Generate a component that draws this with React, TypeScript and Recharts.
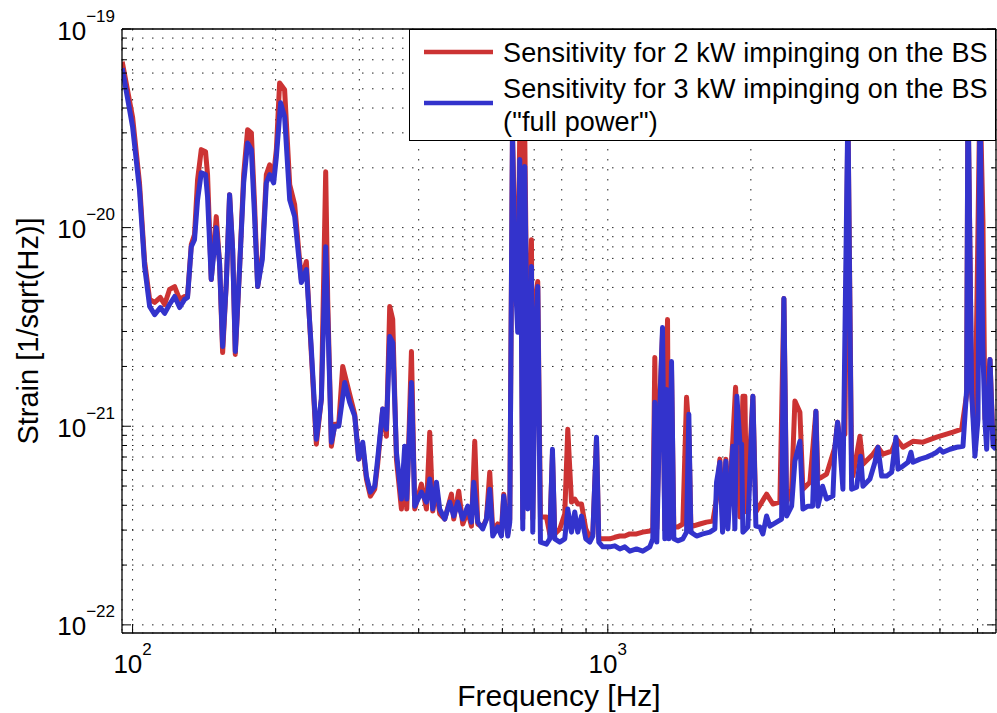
import { LineChart, Line, XAxis, YAxis, CartesianGrid, Legend } from 'recharts'

const FONT = '"Liberation Sans", Arial, Helvetica, sans-serif'
const RED = '#cc3333'
const BLUE = '#3333cc'

// frequency [Hz] / strain [1/sqrt(Hz)]
const freqBlue = [
  95.1, 100, 103.4, 106.0, 108.6, 111.3, 114.4, 116.8, 119.6, 122.6,
  125.6, 128.7, 130.5, 132.9, 135.0, 137.0, 139.5, 142.4, 143.8, 146.4,
  150.0, 152.4, 154.7, 157.5, 160.0, 162.4, 164.5, 168.0, 171.3, 174.6,
  177.8, 180.6, 183.3, 187.5, 191.2, 194.3, 198.1, 200.7, 204.9, 208.9,
  214.1, 219.3, 226.5, 232.1, 237.8, 243.6, 249.6, 254.9, 257.4, 262.0,
  266.3, 271.5, 279.5, 286.3, 293.4, 299.1, 305.0, 310.5, 316.5, 323.2,
  327.9, 336.0, 342.1, 347.6, 352.7, 359.1, 367.9, 373.8, 377.5, 386.2,
  392.4, 405.3, 415.3, 422.0, 428.2, 435.9, 442.9, 453.8, 464.9, 474.0,
  483.3, 495.2, 507.3, 516.5, 522.3, 532.5, 545.6, 555.4, 564.4, 572.7,
  586.7, 597.3, 604.0, 615.9, 621.9, 630.1, 637.1, 646.4, 652.7, 658.1,
  662.3, 668.7, 674.3, 678.5, 690.8, 695.2, 704.3, 712.2, 721.6, 742.9,
  754.9, 764.8, 773.4, 792.4, 811.8, 823.7, 838.6, 852.1, 864.6, 880.3,
  898.8, 916.5, 929.9, 946.7, 957.3, 976.1, 1009.7, 1034.5, 1059.9, 1085.9,
  1112.5, 1149.2, 1184.8, 1225.7, 1243.7, 1255.8, 1268.0, 1286.6, 1303.6, 1318.3,
  1329.2, 1344.1, 1361.8, 1377.1, 1404.0, 1438.5, 1464.5, 1480.9, 1495.4, 1537.2,
  1584.9, 1639.7, 1679.9, 1693.8, 1721.2, 1743.8, 1772.0, 1789.3, 1833.2, 1851.0,
  1869.1, 1896.5, 1912.2, 1924.3, 1971.5, 2019.8, 2049.4, 2089.3, 2120.0, 2158.4,
  2193.3, 2265.7, 2321.3, 2347.3, 2378.3, 2436.7, 2475.9, 2536.7, 2573.8, 2637.0,
  2697.8, 2741.3, 2768.1, 2831.4, 2886.8, 2976.4, 3005.4, 3045.0, 3079.1, 3124.2,
  3200.9, 3258.9, 3338.9, 3404.4, 3442.5, 3561.4, 3648.8, 3702.3, 3769.3, 3861.9,
  3956.7, 4040.1, 4079.5, 4179.3, 4281.8, 4344.5, 4386.9, 4538.2, 4688.0, 4833.1,
  4920.4, 5000, 5073.2, 5248.1, 5421.6, 5589.8, 5690.5, 5726.7, 5830.2, 5924.4,
  6011.3, 6069.8, 6149.9, 6218.8, 6270.3, 6371.5, 6465.0, 6560,
]

const strainBlue = [
  6.35e-20, 3.22e-20, 1.55e-20, 6.37e-21, 4.01e-21, 3.65e-21, 3.96e-21, 3.7e-21, 4.1e-21, 4.5e-21,
  3.96e-21, 4.35e-21, 4.45e-21, 8.02e-21, 8.7e-21, 1.38e-20, 1.89e-20, 1.85e-20, 1.43e-20, 5.48e-21,
  1.0e-20, 6.67e-21, 2.52e-21, 5.29e-21, 1.465e-20, 7.75e-21, 2.38e-21, 6.37e-21, 1.68e-20, 2.67e-20,
  2.47e-20, 1.136e-20, 5.05e-21, 6.91e-21, 1.68e-20, 1.85e-20, 1.68e-20, 2.27e-20, 4.25e-20, 3.61e-20,
  1.38e-20, 1.136e-20, 5.29e-21, 6.15e-21, 2.44e-21, 8.6e-22, 1.37e-21, 8.02e-21, 3.57e-21, 8.31e-22,
  1.0e-21, 1.0e-21, 1.66e-21, 1.32e-21, 1.123e-21, 6.83e-22, 8.31e-22, 5.61e-22, 4.66e-22, 4.99e-22,
  6.83e-22, 1.22e-21, 9.66e-22, 2.83e-21, 2.64e-21, 7.4e-22, 4.3e-22, 7.93e-22, 4.3e-22, 1.66e-21,
  3.96e-22, 4.66e-22, 4.15e-22, 5.42e-22, 3.83e-22, 5.23e-22, 3.83e-22, 3.41e-22, 4.15e-22, 3.53e-22,
  4.15e-22, 3.41e-22, 3.96e-22, 3.29e-22, 5.23e-22, 3.29e-22, 3.04e-22, 3.41e-22, 4.82e-22, 2.8e-22,
  3.11e-22, 2.8e-22, 4.45e-22, 2.8e-22, 3.29e-22, 3.0e-20, 6.37e-21, 2.97e-21, 2.2e-20, 2.97e-21,
  3.04e-22, 2.03e-20, 4.35e-21, 3.83e-22, 6.37e-21, 2.93e-22, 2.97e-21, 5.05e-21, 2.61e-22, 2.55e-22,
  2.71e-22, 7.66e-22, 2.71e-22, 2.61e-22, 2.71e-22, 3.83e-22, 2.93e-22, 3.7e-22, 2.93e-22, 3.53e-22,
  2.71e-22, 2.61e-22, 2.8e-22, 8.81e-22, 2.61e-22, 2.47e-22, 2.47e-22, 2.5e-22, 2.41e-22, 2.47e-22,
  2.35e-22, 2.41e-22, 2.35e-22, 2.47e-22, 2.71e-22, 1.32e-21, 2.61e-22, 1.22e-21, 3.14e-21, 2.71e-22,
  1.53e-21, 2.71e-22, 2.12e-21, 2.71e-22, 2.65e-22, 2.71e-22, 2.93e-22, 1.149e-21, 2.93e-22, 2.8e-22,
  2.87e-22, 2.93e-22, 3.04e-22, 5.23e-22, 6.59e-22, 2.93e-22, 6.67e-22, 3.04e-22, 7.93e-22, 3.04e-22,
  1.415e-21, 8.31e-22, 8.12e-22, 2.93e-22, 3.11e-22, 1.415e-21, 3.14e-22, 3.11e-22, 2.87e-22, 3.53e-22,
  3.14e-22, 3.29e-22, 3.41e-22, 4.4e-21, 3.53e-22, 3.96e-22, 6.67e-22, 8.4e-22, 3.83e-22, 3.96e-22,
  3.96e-22, 1.19e-21, 3.96e-22, 4.99e-22, 4.3e-22, 4.45e-22, 7.84e-22, 1.047e-21, 7.93e-22, 4.82e-22,
  4.0e-20, 4.82e-22, 4.94e-22, 7.07e-22, 4.99e-22, 5.42e-22, 6.59e-22, 7.84e-22, 5.61e-22, 5.61e-22,
  5.87e-22, 8.81e-22, 6.08e-22, 6.3e-22, 6.59e-22, 7.4e-22, 6.59e-22, 6.83e-22, 6.99e-22, 7.23e-22,
  7.4e-22, 7.66e-22, 7.4e-22, 7.66e-22, 7.84e-22, 7.93e-22, 1.53e-21, 5.0e-20, 1.48e-21, 7.07e-22,
  1.084e-21, 5.0e-20, 2.64e-21, 1.047e-21, 7.66e-22, 2.17e-21, 7.93e-22, 7.66e-22,
]

const freqRed = [
  95.1, 100, 103.4, 106.0, 108.6, 111.3, 114.4, 116.8, 119.6, 122.6,
  125.6, 128.7, 130.5, 132.9, 135.0, 137.0, 139.5, 142.4, 143.8, 146.4,
  150.0, 152.4, 154.7, 157.5, 160.0, 162.4, 164.5, 168.0, 171.3, 174.6,
  177.8, 180.6, 183.3, 187.5, 191.2, 194.3, 198.1, 200.7, 203.9, 208.9,
  214.1, 219.3, 226.5, 232.1, 237.8, 243.6, 249.6, 254.9, 257.4, 262.0,
  266.3, 271.5, 276.8, 286.3, 293.4, 299.1, 305.0, 310.5, 316.5, 323.2,
  327.9, 336.0, 342.1, 347.6, 352.7, 359.1, 367.9, 373.8, 377.5, 386.2,
  392.4, 405.3, 415.3, 422.0, 428.2, 435.9, 442.9, 453.8, 468.8, 474.0,
  485.7, 495.2, 507.3, 516.5, 524.8, 532.5, 545.6, 555.4, 564.4, 572.7,
  586.7, 597.3, 604.0, 615.9, 621.9, 630.1, 637.1, 646.4, 652.7, 658.1,
  662.3, 668.7, 678.5, 690.8, 695.2, 704.3, 712.2, 721.6, 742.9, 754.9,
  764.8, 773.4, 792.4, 811.8, 823.7, 838.6, 852.1, 864.6, 880.3, 898.8,
  916.5, 929.9, 946.7, 957.3, 976.1, 1009.7, 1034.5, 1059.9, 1085.9, 1112.5,
  1149.2, 1184.8, 1225.7, 1243.7, 1255.8, 1268.0, 1286.6, 1303.6, 1318.3, 1335.6,
  1344.1, 1361.8, 1377.1, 1404.0, 1438.5, 1464.5, 1480.9, 1495.4, 1509.9, 1562.0,
  1613.6, 1663.7, 1693.8, 1721.2, 1743.8, 1772.0, 1789.3, 1833.2, 1857.3, 1869.1,
  1896.5, 1924.3, 1943.1, 1959.1, 2019.8, 2049.4, 2158.4, 2225.4, 2302.3, 2347.3,
  2378.3, 2436.7, 2475.9, 2536.7, 2573.8, 2662.7, 2741.3, 2768.1, 2818.2, 2886.8,
  3005.4, 3045.0, 3079.1, 3154.6, 3200.9, 3258.9, 3279.5, 3392.8, 3442.5, 3613.5,
  3702.3, 3793.2, 3956.7, 4053.8, 4179.3, 4386.9, 4604.7, 4920.4, 5325.0, 5554.4,
  5690.5, 5726.7, 5830.2, 5924.4, 6069.8, 6158.8, 6218.8, 6371.5, 6465.0, 6560,
]

const strainRed = [
  6.85e-20, 3.6e-20, 1.68e-20, 6.75e-21, 4.35e-21, 4.2e-21, 4.45e-21, 4.1e-21, 4.88e-21, 5.05e-21,
  4.35e-21, 4.5e-21, 4.5e-21, 8.21e-21, 9.22e-21, 1.74e-20, 2.47e-20, 2.41e-20, 1.85e-20, 5.48e-21,
  1.136e-20, 6.67e-21, 2.35e-21, 5.29e-21, 1.465e-20, 7.75e-21, 2.3e-21, 6.37e-21, 1.85e-20, 3.11e-20,
  3.0e-20, 1.305e-20, 5.05e-21, 7.32e-21, 1.85e-20, 2.07e-20, 1.85e-20, 2.47e-20, 5.35e-20, 4.94e-20,
  1.645e-20, 1.305e-20, 5.48e-21, 6.75e-21, 2.3e-21, 8.12e-22, 1.37e-21, 1.91e-20, 4.35e-21, 7.93e-22,
  1.023e-21, 1.023e-21, 2.0e-21, 1.448e-21, 1.149e-21, 6.83e-22, 7.93e-22, 5.42e-22, 4.45e-22, 4.82e-22,
  6.44e-22, 1.22e-21, 8.91e-22, 4.01e-21, 3.45e-21, 6.83e-22, 3.83e-22, 6.83e-22, 3.83e-22, 2.38e-21,
  3.83e-22, 5.11e-22, 3.83e-22, 9.33e-22, 3.74e-22, 4.82e-22, 3.62e-22, 3.41e-22, 4.55e-22, 3.41e-22,
  4.71e-22, 3.22e-22, 3.74e-22, 3.14e-22, 8.4e-22, 3.22e-22, 3.11e-22, 3.41e-22, 5.87e-22, 2.97e-22,
  3.22e-22, 3.04e-22, 4.55e-22, 2.87e-22, 3.41e-22, 3.0e-20, 9.77e-21, 4.35e-21, 3.0e-20, 5.48e-21,
  3.41e-22, 3.0e-20, 1.37e-21, 8.7e-21, 3.41e-22, 4.35e-21, 5.35e-21, 3.49e-22, 3.49e-22, 2.87e-22,
  7.23e-22, 2.87e-22, 3.04e-22, 3.62e-22, 9.66e-22, 4.15e-22, 4.3e-22, 4.06e-22, 4.06e-22, 3.04e-22,
  2.76e-22, 2.87e-22, 8.6e-22, 2.71e-22, 2.71e-22, 2.71e-22, 2.76e-22, 2.8e-22, 2.8e-22, 2.87e-22,
  2.87e-22, 2.93e-22, 2.97e-22, 3.04e-22, 2.22e-21, 3.04e-22, 1.37e-21, 2.9e-21, 3.04e-22, 3.45e-21,
  3.04e-22, 1.93e-21, 3.11e-22, 3.11e-22, 3.22e-22, 1.4e-21, 9.66e-22, 3.22e-22, 3.14e-22, 3.22e-22,
  3.29e-22, 3.33e-22, 4.3e-22, 6.83e-22, 3.41e-22, 6.83e-22, 3.49e-22, 8.6e-22, 1.57e-21, 1.084e-21,
  3.49e-22, 1.415e-21, 1.415e-21, 3.7e-22, 1.415e-21, 3.7e-22, 4.55e-22, 4.06e-22, 4.15e-22, 4.4e-21,
  4.15e-22, 4.82e-22, 1.34e-21, 1.176e-21, 4.82e-22, 5.23e-22, 1.19e-21, 5.42e-22, 5.54e-22, 5.74e-22,
  7.84e-22, 1.047e-21, 8.6e-22, 9.12e-22, 4.0e-20, 6.08e-22, 5.61e-22, 8.91e-22, 6.44e-22, 7.23e-22,
  7.84e-22, 7.23e-22, 7.49e-22, 8.6e-22, 7.84e-22, 8.4e-22, 8.31e-22, 8.81e-22, 9.33e-22, 9.66e-22,
  1.448e-21, 5.0e-20, 1.48e-21, 8.6e-22, 5.0e-20, 1.06e-20, 1.084e-21, 2.17e-21, 8.6e-22, 8.12e-22,
]

const xTicks = [100, 200, 300, 400, 500, 600, 700, 800, 900, 1000, 2000, 3000, 4000, 5000, 6000]
const yTicks = [
  1e-22, 2e-22, 3e-22, 4e-22, 5e-22, 6e-22, 7e-22, 8e-22, 9e-22,
  1e-21, 2e-21, 3e-21, 4e-21, 5e-21, 6e-21, 7e-21, 8e-21, 9e-21,
  1e-20, 2e-20, 3e-20, 4e-20, 5e-20, 6e-20, 7e-20, 8e-20, 9e-20,
  1e-19,
]

const redName = 'Sensitivity for 2 kW impinging on the BS'
const blueName = 'Sensitivity for 3 kW impinging on the BS\n("full power")'

const redData = freqRed.map((f, i) => ({ f, v: strainRed[i] }))
const blueData = freqBlue.map((f, i) => ({ f, v: strainBlue[i] }))

const isDecade = (v: number) => Math.abs(Math.log10(v) - Math.round(Math.log10(v))) < 1e-6
const expOf = (v: number) => Math.round(Math.log10(v))
const expText = (e: number) => (e < 0 ? '\u2212' + Math.abs(e) : String(e))

function BottomTick({ x, y, payload }: any) {
  const major = isDecade(payload.value)
  return (
    <g>
      <line x1={x} x2={x} y1={y} y2={y - (major ? 9 : 5)} stroke="#000" strokeWidth={1} />
      {major && (
        <text x={x} y={y + 40} textAnchor="middle" fontFamily={FONT} fontSize={26} fill="#000">
          10
          <tspan dy={-18} fontSize={17}>
            {expText(expOf(payload.value))}
          </tspan>
        </text>
      )}
    </g>
  )
}

function TopTick({ x, y, payload }: any) {
  const major = isDecade(payload.value)
  return <line x1={x} x2={x} y1={y} y2={y + (major ? 9 : 5)} stroke="#000" strokeWidth={1} />
}

function LeftTick({ x, y, payload }: any) {
  const major = isDecade(payload.value)
  return (
    <g>
      <line x1={x} x2={x + (major ? 9 : 5)} y1={y} y2={y} stroke="#000" strokeWidth={1} />
      {major && (
        <text x={x - 7} y={y + 10.5} textAnchor="end" fontFamily={FONT} fontSize={26} fill="#000">
          10
          <tspan dy={-18} fontSize={17}>
            {expText(expOf(payload.value))}
          </tspan>
        </text>
      )}
    </g>
  )
}

function RightTick({ x, y, payload }: any) {
  const major = isDecade(payload.value)
  return <line x1={x} x2={x - (major ? 9 : 5)} y1={y} y2={y} stroke="#000" strokeWidth={1} />
}

function StrainLabel(props: any) {
  const vb = props.viewBox ?? { x: 0, y: 29, width: 122, height: 604 }
  const cx = vb.x + 28
  const cy = vb.y + vb.height / 2
  return (
    <text
      x={cx}
      y={cy}
      transform={`rotate(-90 ${cx} ${cy})`}
      textAnchor="middle"
      dominantBaseline="central"
      fontFamily={FONT}
      fontSize={29}
      fill="#000"
    >
      Strain [1/sqrt(Hz)]
    </text>
  )
}

function LegendBox({ payload }: any) {
  const items = (payload ?? []).filter((p: any) => p.type !== 'none')
  return (
    <div
      style={{
        boxSizing: 'border-box',
        width: 587,
        height: 112,
        border: '1.5px solid #000',
        background: '#fff',
      }}
    >
      <svg width={584} height={109} style={{ display: 'block' }}>
        {items.map((item: any, i: number) => {
          const lines = String(item.value).split('\n')
          const lineY = i === 0 ? 22 : 73
          const textY = i === 0 ? 32 : 68
          return (
            <g key={i}>
              <line x1={14} x2={83} y1={lineY} y2={lineY} stroke={item.color} strokeWidth={4.5} />
              <text x={93} y={textY} fontFamily={FONT} fontSize={27} letterSpacing={0.15} fill="#000">
                {lines.map((l, j) => (
                  <tspan key={j} x={93} dy={j === 0 ? 0 : 33}>
                    {l}
                  </tspan>
                ))}
              </text>
            </g>
          )
        })}
      </svg>
    </div>
  )
}

export default function App() {
  return (
    <div style={{ position: 'absolute', left: 0, top: 0, width: 997, height: 713, background: '#fff' }}>
      <LineChart width={997} height={713} margin={{ top: 0, right: 0, bottom: 0, left: 0 }}>
        <CartesianGrid stroke="#222" strokeWidth={1} strokeDasharray="1.5 8.5" />
        <XAxis
          dataKey="f"
          type="number"
          scale="log"
          domain={[95, 6560]}
          allowDataOverflow
          ticks={xTicks}
          interval={0}
          height={80}
          tickSize={0}
          tickMargin={0}
          tickLine={false}
          axisLine={{ stroke: '#000', strokeWidth: 1.3 }}
          tick={(p: any) => <BottomTick {...p} />}
          label={{ value: 'Frequency [Hz]', position: 'insideBottom', offset: 7, fontSize: 30, fill: '#000', fontFamily: FONT }}
        />
        <XAxis
          xAxisId="top"
          orientation="top"
          type="number"
          scale="log"
          domain={[95, 6560]}
          allowDataOverflow
          ticks={xTicks}
          interval={0}
          height={29}
          tickSize={0}
          tickMargin={0}
          tickLine={false}
          axisLine={{ stroke: '#000', strokeWidth: 1.3 }}
          tick={(p: any) => <TopTick {...p} />}
        />
        <YAxis
          type="number"
          scale="log"
          domain={[9.1e-23, 1e-19]}
          allowDataOverflow
          ticks={yTicks}
          interval={0}
          width={122}
          tickSize={0}
          tickMargin={0}
          tickLine={false}
          axisLine={{ stroke: '#000', strokeWidth: 1.3 }}
          tick={(p: any) => <LeftTick {...p} />}
          label={(p: any) => <StrainLabel {...p} />}
        />
        <YAxis
          yAxisId="right"
          orientation="right"
          type="number"
          scale="log"
          domain={[9.1e-23, 1e-19]}
          allowDataOverflow
          ticks={yTicks}
          interval={0}
          width={1}
          tickSize={0}
          tickMargin={0}
          tickLine={false}
          axisLine={{ stroke: '#000', strokeWidth: 1.3 }}
          tick={(p: any) => <RightTick {...p} />}
        />
        <Line
          data={redData}
          dataKey="v"
          name={redName}
          type="linear"
          stroke={RED}
          strokeWidth={5}
          strokeLinejoin="round"
          dot={false}
          activeDot={false}
          isAnimationActive={false}
        />
        <Line
          data={blueData}
          dataKey="v"
          name={blueName}
          type="linear"
          stroke={BLUE}
          strokeWidth={5}
          strokeLinejoin="round"
          dot={false}
          activeDot={false}
          isAnimationActive={false}
        />
        <Legend
          layout="vertical"
          align="center"
          verticalAlign="middle"
          wrapperStyle={{ left: 409, top: 29, width: 587, height: 112 }}
          content={(p: any) => <LegendBox {...p} />}
        />
      </LineChart>
    </div>
  )
}
